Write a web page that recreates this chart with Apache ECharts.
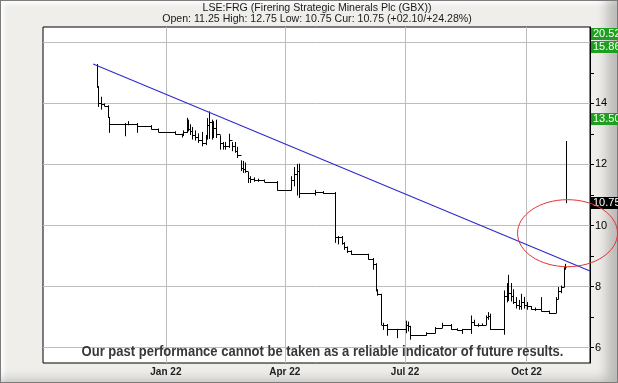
<!DOCTYPE html>
<html><head><meta charset="utf-8">
<script src="https://cdn.jsdelivr.net/npm/echarts@6/dist/echarts.min.js"></script>
<style>
html,body{margin:0;padding:0;width:618px;height:383px;overflow:hidden;background:#fff}
#frame{position:absolute;left:0;top:0;width:616px;height:381px;border:1px solid #7b7b7b;background:#efeeeb;
box-shadow: inset -16px -8px 12px -6px rgba(0,0,0,0.22), inset 3px 3px 4px rgba(255,255,255,0.9);}
#chart{position:absolute;left:0;top:0;width:618px;height:383px}
</style></head>
<body><div id="frame"></div><div id="chart"></div>
<script>
// ---- data ----
const titleText = 'LSE:FRG (Firering Strategic Minerals Plc (GBX))';
const subtitleText = 'Open: 11.25 High: 12.75 Low: 10.75 Cur: 10.75 (+02.10/+24.28%)';
const disclaimerText = 'Our past performance cannot be taken as a reliable indicator of future results.';
const axisStart = '2021-09-30';
const axisEnd = '2022-11-18';
const tickDates = ['2022-01-01','2022-04-01','2022-07-01','2022-10-01'];
const tickLabels = ['Jan 22','Apr 22','Jul 22','Oct 22'];
const yTickValues = [6,7,8,9,10,11,12,13,14,15,16];
const yLabelValues = [6,8,10,12,14];
const yGridValues = [6,8,10,12,14,16];

const dates = ['2021-11-10','2021-11-11','2021-11-13','2021-11-15','2021-11-18','2021-11-19','2021-12-01','2021-12-03','2021-12-10','2021-12-21',
'2021-12-26','2022-01-08','2022-01-13','2022-01-14','2022-01-17','2022-01-18','2022-01-19','2022-01-21','2022-01-23','2022-01-25',
'2022-01-28','2022-01-31','2022-02-01','2022-02-03','2022-02-05','2022-02-06','2022-02-08','2022-02-11','2022-02-13','2022-02-15',
'2022-02-18','2022-02-20','2022-02-22','2022-02-24','2022-02-27','2022-02-28','2022-03-02','2022-03-04','2022-03-06','2022-03-09',
'2022-03-12','2022-03-16','2022-03-26','2022-04-06','2022-04-08','2022-04-10','2022-04-12','2022-04-24','2022-04-30','2022-05-09',
'2022-05-11','2022-05-14','2022-05-16','2022-05-18','2022-05-21','2022-06-03','2022-06-07','2022-06-09','2022-06-10','2022-06-13',
'2022-06-14','2022-06-17','2022-06-25','2022-07-02','2022-07-03','2022-07-05','2022-07-17','2022-07-24','2022-07-29','2022-08-05',
'2022-08-09','2022-08-13','2022-08-20','2022-08-22','2022-08-25','2022-08-28','2022-08-31','2022-09-02','2022-09-03','2022-09-14',
'2022-09-16','2022-09-17','2022-09-19','2022-09-21','2022-09-23','2022-09-25','2022-09-27','2022-09-29','2022-10-01','2022-10-04',
'2022-10-07','2022-10-12','2022-10-18','2022-10-23','2022-10-25','2022-10-27','2022-10-29','2022-10-30','2022-10-31'];
const lows = [14.53,13.9,13.81,13.92,13.54,13.05,12.94,13.3,13.05,13.16,
13.07,12.99,12.9,12.95,13.05,13.1,12.98,12.83,12.8,12.72,
12.61,12.65,12.83,12.85,12.83,12.88,12.88,12.5,12.5,12.5,
12.56,12.45,12.4,12.23,11.8,11.74,11.74,11.41,11.41,11.45,
11.45,11.44,11.16,11.16,11.3,11.0,10.92,11.0,11.05,9.45,
9.4,9.39,9.22,9.12,9.06,8.9,8.57,7.86,7.72,6.76,
6.6,6.41,6.33,6.49,6.55,6.28,6.41,6.49,6.66,6.6,
6.57,6.47,6.47,6.73,6.70,6.73,6.76,6.93,6.6,6.44,
7.5,7.55,7.53,7.45,7.3,7.26,7.26,7.3,7.26,7.26,
7.22,7.2,7.12,7.15,7.6,7.8,8.0,8.57,10.75];
const highs = [15.27,14.55,14.2,13.98,13.92,13.54,13.34,13.4,13.34,13.27,
13.16,13.07,12.99,13.1,13.51,13.45,13.3,13.21,13.1,13.0,
13.05,12.95,13.5,13.72,13.45,13.4,13.45,12.94,12.72,12.72,
12.99,12.72,12.72,12.56,12.12,12.1,12.05,11.74,11.6,11.56,
11.52,11.49,11.44,11.6,11.9,12.0,12.01,11.15,11.11,11.08,
9.64,9.64,9.44,9.3,9.17,9.06,8.92,8.75,7.9,7.75,
6.8,6.76,6.6,6.87,6.84,6.7,6.49,6.66,6.8,6.76,
6.62,6.6,7.04,6.9,6.78,6.78,7.04,7.15,7.1,7.86,
8.1,8.37,8.1,7.9,7.64,7.55,7.75,7.65,7.48,7.35,
7.3,7.64,7.2,7.64,7.97,8.02,8.62,8.73,12.75];
const closes = [14.55,14.0,13.98,13.92,13.54,13.34,13.34,13.34,13.27,13.16,
13.07,12.99,12.97,13.05,13.3,13.15,13.1,12.95,12.9,12.8,
12.7,12.9,13.3,13.4,13.0,13.2,13.0,12.7,12.6,12.6,
12.8,12.6,12.45,12.3,11.9,11.85,11.8,11.55,11.52,11.49,
11.49,11.44,11.16,11.5,11.7,11.8,11.05,11.11,11.08,9.61,
9.62,9.44,9.3,9.17,9.06,8.92,8.75,7.9,7.75,6.76,
6.76,6.6,6.6,6.75,6.7,6.41,6.49,6.66,6.76,6.6,
6.57,6.6,6.85,6.73,6.73,6.76,7.0,7.05,6.6,7.7,
7.9,7.8,7.7,7.5,7.4,7.35,7.5,7.4,7.35,7.26,
7.26,7.2,7.15,7.6,7.85,8.0,8.6,8.65,10.75];

const trendDates = ['2021-11-07','2022-11-18'];
const trendValues = [15.29, 8.51];

const rightLabelValues = [20.52, 15.86, 13.50, 10.75];
const rightLabelColors = ['#1f9f1f','#1f9f1f','#1f9f1f','#000000'];

const circleDate = '2022-11-01';
const circleValue = 9.75;

// ---- build ----
const days = [];
(function(){
  let t = Date.parse(axisStart + 'T00:00:00Z');
  const end = Date.parse(axisEnd + 'T00:00:00Z');
  while (t <= end) { days.push(new Date(t).toISOString().slice(0,10)); t += 86400000; }
})();
const idx = d => days.indexOf(d);
const isTick = (i, v) => tickDates.indexOf(v) >= 0;

const barData = dates.map((d,i) => [idx(d), lows[i], highs[i], closes[i]]);

const FONT = 'Liberation Sans, Arial, sans-serif';
const chart = echarts.init(document.getElementById('chart'), null, {renderer:'canvas'});

const option = {
  animation: false,
  backgroundColor: 'transparent',
  grid: {left: 43, right: 28, top: 27, bottom: 20, show: true, backgroundColor: '#ffffff', borderColor: '#000000', borderWidth: 1},
  xAxis: {
    type: 'category', data: days, boundaryGap: false,
    axisLine: {show: false}, axisTick: {show: false},
    axisLabel: {interval: isTick, formatter: v => tickLabels[tickDates.indexOf(v)] || '',
      color: '#222', fontSize: 10, fontWeight: 'bold', fontFamily: FONT, margin: 4},
    splitLine: {show: true, interval: isTick, lineStyle: {color: '#bcbcbc', width: 1}}
  },
  yAxis: {
    type: 'value', position: 'right', min: 5.5, max: 16.5,
    axisLine: {show: true, lineStyle: {color: '#000'}},
    axisTick: {show: true, customValues: yTickValues, length: 4, lineStyle: {color: '#000'}},
    axisLabel: {customValues: yLabelValues, color: '#000', fontSize: 11, fontFamily: FONT, margin: 5},
    splitLine: {show: false}
  },
  series: [
    {
      type: 'custom', name: 'price', z: 3, clip: true,
      data: barData,
      encode: {x: 0, y: [1, 2]},
      renderItem: function (params, api) {
        const i = params.dataIndex;
        const xi = api.value(0);
        const pL = api.coord([xi, api.value(1)]);
        const pH = api.coord([xi, api.value(2)]);
        const px = Math.round(pL[0]) + 0.5;
        const children = [{type: 'line', shape: {x1: px, y1: pL[1] + 0.5, x2: px, y2: pH[1] - 0.5},
          style: {stroke: '#000', lineWidth: 1}}];
        if (i < barData.length - 1) {
          const nx = barData[i + 1][0];
          const p0 = api.coord([xi, api.value(3)]);
          const p1 = api.coord([nx, api.value(3)]);
          const py = Math.round(p0[1]) + 0.5;
          children.push({type: 'line', shape: {x1: px, y1: py, x2: Math.round(p1[0]) + 0.5, y2: py},
            style: {stroke: '#000', lineWidth: 1}});
        }
        return {type: 'group', children: children};
      }
    },
    {
      type: 'line', name: 'trend', z: 4, symbol: 'none', silent: true,
      data: trendDates.map((d, i) => [d, trendValues[i]]),
      lineStyle: {color: '#2b2bcc', width: 1.1}
    },
    {
      type: 'line', name: 'grid', z: 1, symbol: 'none', silent: true, data: [],
      markLine: {silent: true, symbol: 'none', z: 1, label: {show: false}, animation: false,
        lineStyle: {color: '#bcbcbc', type: 'solid', width: 1},
        data: yGridValues.map(v => ({yAxis: v}))}
    }
  ]
};
chart.setOption(option);

// annotations
const gridTop = 27;
const elements = [];
elements.push({type: 'text', x: 317, y: 8, z: 100, style: {text: titleText, fill: '#1a1a1a', font: '10.6px ' + FONT,
  align: 'center', verticalAlign: 'middle', textAlign: 'center', textVerticalAlign: 'middle'}});
elements.push({type: 'text', x: 317, y: 19.5, z: 100, style: {text: subtitleText, fill: '#1a1a1a', font: '10.6px ' + FONT,
  align: 'center', verticalAlign: 'middle', textAlign: 'center', textVerticalAlign: 'middle'}});
elements.push({type: 'text', x: 322.5, y: 352, scaleX: 0.84, z: 100, style: {text: disclaimerText, fill: '#383838',
  font: 'bold 15.5px ' + FONT, align: 'center', verticalAlign: 'middle', textAlign: 'center', textVerticalAlign: 'middle'}});

const cpt = chart.convertToPixel({gridIndex: 0}, [idx(circleDate), circleValue]);
elements.push({type: 'ellipse', z: 120, shape: {cx: cpt[0], cy: cpt[1], rx: 50, ry: 33.5},
  style: {fill: 'none', stroke: '#e03434', lineWidth: 1}});

rightLabelValues.forEach((v, i) => {
  let cy = chart.convertToPixel({yAxisIndex: 0}, v);
  if (cy < gridTop + 7) cy = gridTop + 7;
  elements.push({type: 'rect', z: 110, shape: {x: 591, y: Math.round(cy - 6), width: 30, height: 12},
    style: {fill: rightLabelColors[i]}});
  elements.push({type: 'text', z: 111, x: 593, y: Math.round(cy), style: {text: v.toFixed(2), fill: '#fff',
    font: '11px ' + FONT, align: 'left', verticalAlign: 'middle', textAlign: 'left', textVerticalAlign: 'middle'}});
});
chart.setOption({graphic: {elements: elements}});
</script>
</body></html>
